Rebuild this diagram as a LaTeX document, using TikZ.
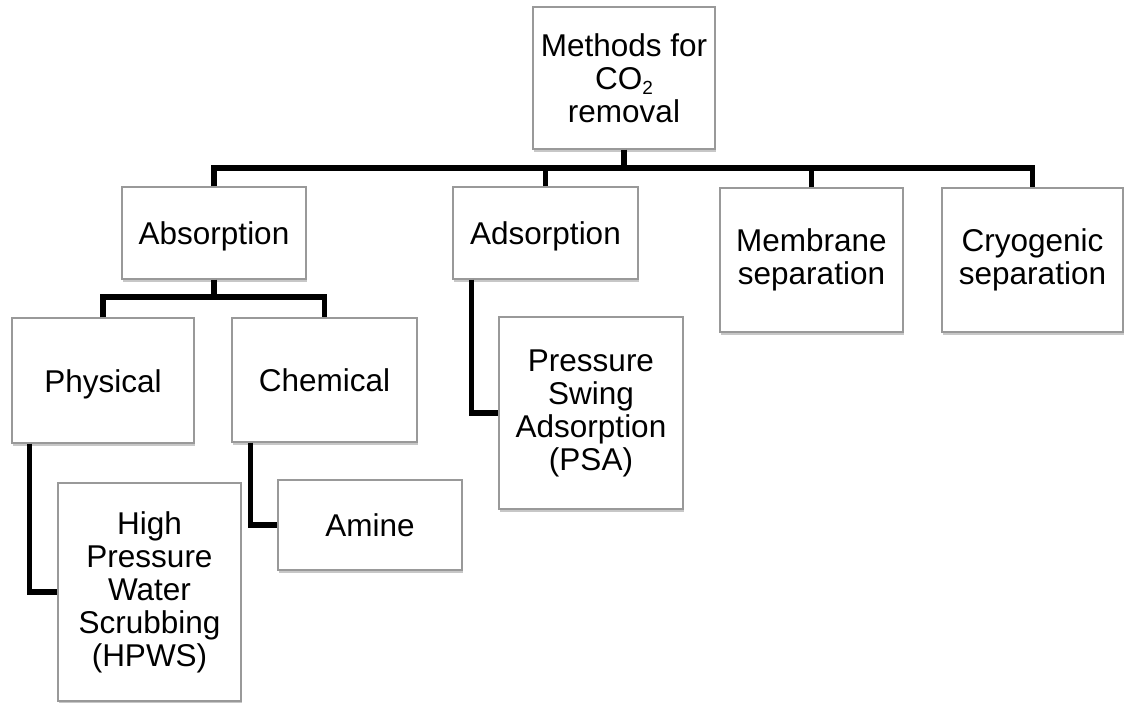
\documentclass[tikz,border=0pt]{standalone}
\usepackage{fontspec}
\setmainfont{Liberation Sans}
\usetikzlibrary{shadows}
\newcommand{\lowtwo}{\smash{\raisebox{-5pt}{\fontsize{19}{19}\selectfont 2}}}
\begin{document}
\begin{tikzpicture}[x=1pt,y=-1pt,
  box/.style={draw=black!40, line width=1.2pt, fill=white, inner sep=0pt,
    align=center, font=\fontsize{31.5}{33}\selectfont,
    drop shadow={shadow xshift=1pt, shadow yshift=-3pt, fill=black, opacity=0.22}},
  oneline/.style={text height=23pt, text depth=0pt},
  conn/.style={draw=black, line width=5.5pt, line join=miter}]
\useasboundingbox (0,0) rectangle (1125,702);
\fill[white] (0,0) rectangle (1125,702);

\node[box, minimum width=182pt, minimum height=142pt] (root) at (624,78) {Methods for\\CO\lowtwo\\removal};
\node[box, oneline, minimum width=184pt, minimum height=92pt] (absorption) at (214,233) {Absorption};
\node[box, oneline, minimum width=185pt, minimum height=92pt] (adsorption) at (545.5,233) {Adsorption};
\node[box, minimum width=183pt, minimum height=144pt] (membrane) at (811.5,260) {Membrane\\separation};
\node[box, minimum width=181pt, minimum height=144pt] (cryo) at (1032.5,260) {Cryogenic\\separation};
\node[box, oneline, minimum width=182pt, minimum height=125pt] (physical) at (103,380.5) {Physical};
\node[box, oneline, minimum width=185pt, minimum height=124pt] (chemical) at (324.5,380) {Chemical};
\node[box, minimum width=183pt, minimum height=218pt] (hpws) at (149.5,592) {High\\Pressure\\Water\\Scrubbing\\(HPWS)};
\node[box, oneline, minimum width=184pt, minimum height=90pt] (amine) at (370,525) {Amine};
\node[box, minimum width=184pt, minimum height=192pt] (psa) at (591,413) {Pressure\\Swing\\Adsorption\\(PSA)};

\coordinate (bus) at (624,168);
\coordinate (sbus) at (214,297);

\draw[conn] (absorption.north) |- (bus) -| (cryo.north);
\draw[conn] (root.south) -- (bus);
\draw[conn] (adsorption.north) -- (adsorption.north |- bus);
\draw[conn] (membrane.north) -- (membrane.north |- bus);

\draw[conn] (physical.north) |- (sbus) -| (chemical.north);
\draw[conn] (absorption.south) -- (sbus);

\draw[conn] ([xshift=18pt]physical.south west) |- (hpws.west);
\draw[conn] ([xshift=19pt]chemical.south west) |- (amine.west);
\draw[conn] ([xshift=19pt]adsorption.south west) |- (psa.west);
\end{tikzpicture}
\end{document}
